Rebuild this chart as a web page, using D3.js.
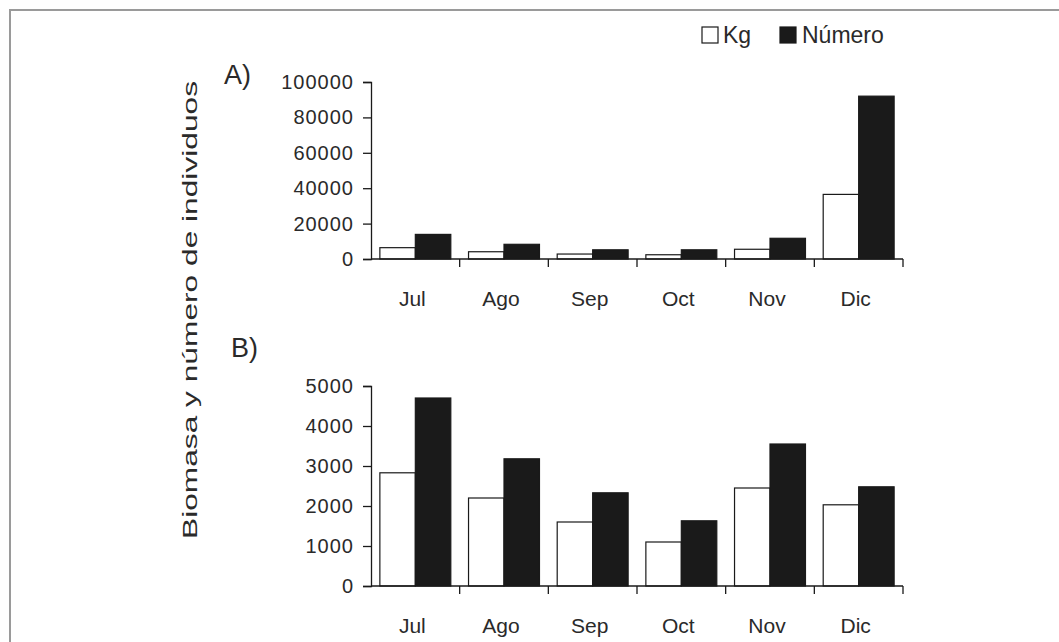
<!DOCTYPE html>
<html lang="es">
<head>
  <meta charset="UTF-8">
  <title>Biomasa y número de individuos</title>
  <style>
    body { margin: 0; background: #fff; }
    svg { display: block; font-family: 'Liberation Sans', Arial, Helvetica, sans-serif; }
  </style>
</head>
<body>
  <svg id="svg" width="1059" height="642"></svg>
  <script src="https://d3js.org/d3.v7.min.js"></script>
  <script>
    const months = ['Jul', 'Ago', 'Sep', 'Oct', 'Nov', 'Dic']
    const series = ['Kg', 'Número']

    // panel A
    const kgA = [6400, 4100, 2800, 2400, 5500, 36500]
    const numA = [13900, 8300, 5200, 5200, 11700, 92000]
    const ticksA = [0, 20000, 40000, 60000, 80000, 100000]

    // panel B
    const kgB = [2830, 2200, 1600, 1100, 2450, 2030]
    const numB = [4700, 3180, 2330, 1630, 3550, 2480]
    const ticksB = [0, 1000, 2000, 3000, 4000, 5000]

    const svg = d3.select('#svg')
    const ink = '#1a1a1a'
    const textColor = '#2a2a2a'

    // scanned page frame
    svg.append('path')
      .attr('d', d3.line()([[10, 642], [10, 10], [1059, 10]]))
      .attr('fill', 'none')
      .attr('stroke', '#9a9a9a')
      .attr('stroke-width', 2)

    const x = d3.scaleBand()
      .domain(months)
      .range([371, 903])

    const xs = d3.scaleBand()
      .domain(series)
      .range([0, x.bandwidth()])
      .paddingOuter(0.25)

    const color = d3.scaleOrdinal()
      .domain(series)
      .range(['#ffffff', ink])

    function panel(kg, num, ticks, top, bottom, label, labelX, labelY) {
      const y = d3.scaleLinear()
        .domain([0, d3.max(ticks)])
        .range([bottom, top])

      const rows = months.map((m, i) => ({ month: m, values: [kg[i], num[i]] }))

      const g = svg.append('g')

      g.selectAll('g.month')
        .data(rows)
        .enter()
        .append('g')
        .attr('transform', d => `translate(${x(d.month)},0)`)
        .selectAll('rect')
        .data(d => d.values.map((v, j) => ({ key: series[j], value: v })))
        .enter()
        .append('rect')
        .attr('x', d => xs(d.key))
        .attr('y', d => y(d.value))
        .attr('width', xs.bandwidth())
        .attr('height', d => bottom - y(d.value))
        .attr('fill', d => color(d.key))
        .attr('stroke', ink)
        .attr('stroke-width', 1.2)

      // y axis
      const yAxis = g.append('g')
        .attr('transform', `translate(${x.range()[0]},0)`)
        .call(d3.axisLeft(y).tickValues(ticks).tickSize(8).tickPadding(9).tickFormat(d3.format('d')))
      yAxis.select('.domain').attr('stroke', ink).attr('stroke-width', 1.3)
      yAxis.selectAll('.tick line').attr('stroke', ink).attr('stroke-width', 1.3)
      yAxis.selectAll('.tick text')
        .attr('fill', textColor)
        .style('font-size', '20px')
        .style('letter-spacing', '1px')

      // x axis: baseline, ticks between categories, labels centered
      g.append('line')
        .attr('x1', x.range()[0]).attr('x2', x.range()[1])
        .attr('y1', bottom).attr('y2', bottom)
        .attr('stroke', ink).attr('stroke-width', 1.3)

      const edges = months.map(m => x(m)).concat([x.range()[1]])
      g.selectAll('line.xt')
        .data(edges.slice(1))
        .enter()
        .append('line')
        .attr('x1', d => d).attr('x2', d => d)
        .attr('y1', bottom).attr('y2', bottom + 8)
        .attr('stroke', ink).attr('stroke-width', 1.3)

      g.selectAll('text.xl')
        .data(months)
        .enter()
        .append('text')
        .text(d => d)
        .attr('x', d => x(d) + x.bandwidth() / 2 - 3)
        .attr('y', bottom + 47)
        .attr('text-anchor', 'middle')
        .attr('fill', textColor)
        .style('font-size', '21px')

      g.append('text')
        .text(label)
        .attr('x', labelX)
        .attr('y', labelY)
        .attr('fill', textColor)
        .style('font-size', '27px')
    }

    panel(kgA, numA, ticksA, 82, 259, 'A)', 224, 84)
    panel(kgB, numB, ticksB, 386, 586, 'B)', 231, 357)

    // y axis title
    svg.append('text')
      .text('Biomasa y número de individuos')
      .attr('transform', 'translate(197,310) rotate(-90)')
      .attr('text-anchor', 'middle')
      .attr('textLength', 458)
      .attr('lengthAdjust', 'spacingAndGlyphs')
      .attr('fill', textColor)
      .style('font-size', '21px')

    // legend
    const legend = svg.append('g')
    const legendX = [702, 780]
    const legendTextX = [723, 802]
    legend.selectAll('rect')
      .data(series)
      .enter()
      .append('rect')
      .attr('x', (d, i) => legendX[i])
      .attr('y', 27)
      .attr('width', 16)
      .attr('height', 16)
      .attr('fill', d => color(d))
      .attr('stroke', ink)
      .attr('stroke-width', 1.2)
    legend.selectAll('text')
      .data(series)
      .enter()
      .append('text')
      .text(d => d)
      .attr('x', (d, i) => legendTextX[i])
      .attr('y', 43)
      .attr('fill', textColor)
      .style('font-size', '23px')
  </script>
</body>
</html>
